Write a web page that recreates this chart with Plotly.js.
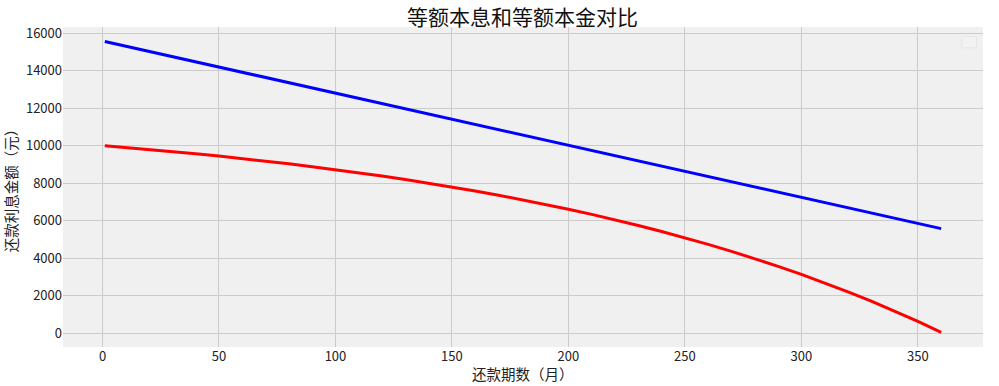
<!DOCTYPE html>
<html>
<head>
<meta charset="utf-8">
<script src="https://cdn.plot.ly/plotly-3.0.1.min.js"></script>
<style>html,body{margin:0;padding:0;background:#fff;}#chart{width:999px;height:386px;}</style>
</head>
<body>
<div id="chart"></div>
<script>
// Months (还款期数)
const months = [1,10,20,30,40,50,60,70,80,90,100,110,120,130,140,150,160,170,180,190,200,210,220,230,240,250,260,270,280,290,300,310,320,330,340,350,360];
// Blue series
const blueValues = [15556,15306,15028,14750,14472,14194,13917,13639,13361,13083,12806,12528,12250,11972,11694,11417,11139,10861,10583,10306,10028,9750,9472,9194,8917,8639,8361,8083,7806,7528,7250,6972,6694,6417,6139,5861,5583];
// Red series
const redValues = [10000,9909,9802,9690,9572,9449,9319,9182,9038,8887,8729,8562,8386,8202,8008,7805,7591,7366,7129,6880,6619,6344,6056,5752,5433,5098,4745,4374,3985,3575,3145,2693,2217,1717,1192,640,59];

const titleText = '等额本息和等额本金对比';
const xTitle = '还款期数（月）';
const yTitle = '还款利息金额（元）';

const font = '"Noto Sans CJK SC", "Noto Sans", sans-serif';

const traces = [
  {x: months, y: blueValues, type: 'scatter', mode: 'lines', line: {color: '#0000ff', width: 3}, showlegend: false},
  {x: months, y: redValues, type: 'scatter', mode: 'lines', line: {color: '#ff0000', width: 3}, showlegend: false}
];

const layout = {
  width: 999, height: 386,
  margin: {l: 63, r: 16, t: 27, b: 39},
  paper_bgcolor: '#ffffff',
  plot_bgcolor: '#f0f0f0',
  font: {family: font, color: '#222222', size: 13},
  title: {text: titleText, font: {family: font, size: 21, color: '#111111'}, x: 0.523, xanchor: 'center', xref: 'container', yref: 'container', y: 0.955, yanchor: 'middle'},
  xaxis: {
    range: [-16.95, 377.95], tick0: 0, dtick: 50, showgrid: true, gridcolor: '#cbcbcb', gridwidth: 1,
    zeroline: false, showline: false, ticks: '', ticklen: 0, tickformat: 'd',
    tickfont: {family: font, size: 13, color: '#222222'}
  },
  yaxis: {
    range: [-725, 16330], tick0: 0, dtick: 2000, showgrid: true, gridcolor: '#cbcbcb', gridwidth: 1,
    zeroline: false, showline: false, ticks: '', ticklen: 0, tickformat: 'd',
    tickfont: {family: font, size: 13, color: '#222222'},
    title: {text: yTitle, font: {family: font, size: 14.5, color: '#222222'}, standoff: 6}
  },
  annotations: [
    {text: xTitle, xref: 'paper', yref: 'paper', x: 0.5, y: -0.082, xanchor: 'center', yanchor: 'middle',
     showarrow: false, font: {family: font, size: 14.5, color: '#222222'}}
  ],
  shapes: [
    {type: 'rect', xref: 'paper', yref: 'paper', x0: 0.977, x1: 0.993, y0: 0.935, y1: 0.97,
     line: {color: '#e6e6e6', width: 1}, fillcolor: '#f2f2f2'}
  ]
};

Plotly.newPlot('chart', traces, layout, {displayModeBar: false, staticPlot: true});
</script>
</body>
</html>
